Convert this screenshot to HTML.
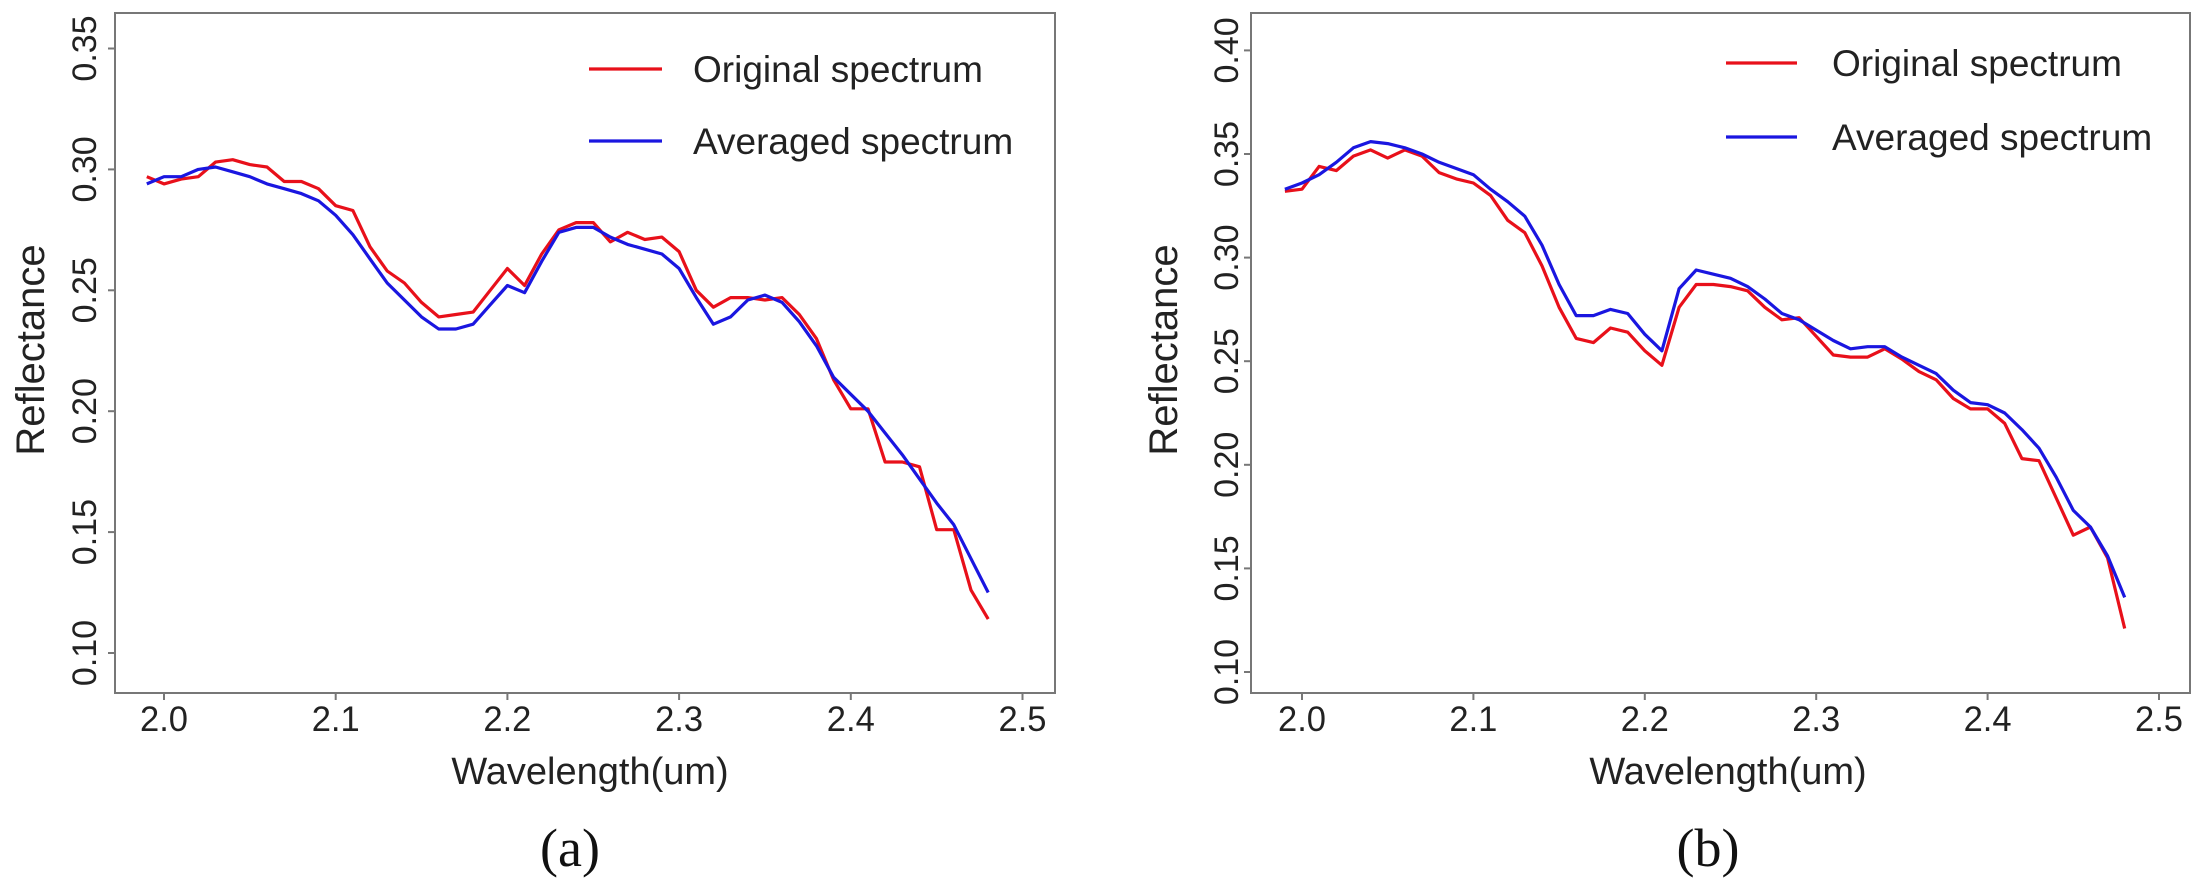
<!DOCTYPE html>
<html><head><meta charset="utf-8"><style>
html,body{margin:0;padding:0;background:#fff;}
svg{display:block;font-family:"Liberation Sans",Arial,sans-serif;}
</style></head><body>
<svg id="chart" width="2200" height="889" viewBox="0 0 2200 889"></svg>
<script>
const wavelengths = [1.99,2.00,2.01,2.02,2.03,2.04,2.05,2.06,2.07,2.08,2.09,2.10,2.11,2.12,2.13,2.14,2.15,2.16,2.17,2.18,2.19,2.20,2.21,2.22,2.23,2.24,2.25,2.26,2.27,2.28,2.29,2.30,2.31,2.32,2.33,2.34,2.35,2.36,2.37,2.38,2.39,2.40,2.41,2.42,2.43,2.44,2.45,2.46,2.47,2.48];
const aOriginal = [.297,.294,.296,.297,.303,.304,.302,.301,.295,.295,.292,.285,.283,.268,.258,.253,.245,.239,.240,.241,.250,.259,.252,.265,.275,.278,.278,.270,.274,.271,.272,.266,.250,.243,.247,.247,.246,.247,.240,.230,.213,.201,.201,.179,.179,.177,.151,.151,.126,.114];
const aAveraged = [.294,.297,.297,.300,.301,.299,.297,.294,.292,.290,.287,.281,.273,.263,.253,.246,.239,.234,.234,.236,.244,.252,.249,.262,.274,.276,.276,.272,.269,.267,.265,.259,.247,.236,.239,.246,.248,.245,.237,.227,.214,.207,.200,.191,.182,.172,.162,.153,.139,.125];
const bOriginal = [.332,.333,.344,.342,.349,.352,.348,.352,.349,.341,.338,.336,.330,.318,.312,.296,.276,.261,.259,.266,.264,.255,.248,.276,.287,.287,.286,.284,.276,.270,.271,.262,.253,.252,.252,.256,.251,.245,.241,.232,.227,.227,.220,.203,.202,.184,.166,.170,.155,.121];
const bAveraged = [.333,.336,.340,.346,.353,.356,.355,.353,.350,.346,.343,.340,.333,.327,.320,.306,.287,.272,.272,.275,.273,.263,.255,.285,.294,.292,.290,.286,.280,.273,.270,.265,.260,.256,.257,.257,.252,.248,.244,.236,.230,.229,.225,.217,.208,.194,.178,.170,.156,.136];
const xTicks = [2.0,2.1,2.2,2.3,2.4,2.5];
const xTickLabels = ["2.0","2.1","2.2","2.3","2.4","2.5"];
const aYTicks = [0.10,0.15,0.20,0.25,0.30,0.35];
const aYTickLabels = ["0.10","0.15","0.20","0.25","0.30","0.35"];
const bYTicks = [0.10,0.15,0.20,0.25,0.30,0.35,0.40];
const bYTickLabels = ["0.10","0.15","0.20","0.25","0.30","0.35","0.40"];
const legendLabels = ["Original spectrum","Averaged spectrum"];

const NS="http://www.w3.org/2000/svg";
const svg=document.getElementById('chart');
function mk(tag,attrs,parent){const e=document.createElementNS(NS,tag);for(const k in attrs)e.setAttribute(k,attrs[k]);(parent||svg).appendChild(e);return e;}

function panel(cfg){
  const g=mk('g',{});
  
  
  const X=v=>cfg.x0+(v-2.0)*cfg.xs;
  const Y=v=>cfg.y0-(v-0.10)*cfg.ys;
  const box=mk('rect',{x:cfg.L,y:cfg.T,width:cfg.R-cfg.L,height:cfg.B-cfg.T,fill:'none',stroke:'#777','stroke-width':2},g);
  
  
  xTicks.forEach((t,i)=>{
    const x=X(t);
    mk('line',{x1:x,y1:cfg.B,x2:x,y2:cfg.B+7,stroke:'#777','stroke-width':2},g);
    const tx=mk('text',{x:x,y:cfg.B+38,'font-size':35,'text-anchor':'middle',fill:'#222',textLength:48,lengthAdjust:'spacingAndGlyphs'},g);
    tx.textContent=xTickLabels[i];
    
    
  });
  cfg.yt.forEach((t,i)=>{
    const y=Y(t);
    mk('line',{x1:cfg.L,y1:y,x2:cfg.L-7,y2:y,stroke:'#777','stroke-width':2},g);
    const tx=mk('text',{x:0,y:0,'font-size':34,'text-anchor':'middle',fill:'#222',transform:`translate(${cfg.tlx},${y}) rotate(-90)`},g);
    tx.textContent=cfg.ytl[i];
    
    
  });
  const yl=mk('text',{x:0,y:0,'font-size':40,'text-anchor':'middle',fill:'#222',transform:`translate(${cfg.ylx},${cfg.ylc}) rotate(-90)`},g);
  yl.textContent='Reflectance';
  
  
  const xl=mk('text',{x:cfg.xlc,y:784,'font-size':38,'text-anchor':'middle',fill:'#222'},g);
  xl.textContent='Wavelength(um)';
  
  
  const cap=mk('text',{x:cfg.xlc-20,y:866,'font-size':54,'text-anchor':'middle',fill:'#111','font-family':'"Liberation Serif",serif'},g);
  cap.textContent=cfg.caption;
  
  
  [[cfg.orig,'#e8101a','original-spectrum-line'],[cfg.avg,'#1a16e0','averaged-spectrum-line']].forEach(([d,c,n])=>{
    const p=mk('polyline',{points:d.map((v,i)=>X(wavelengths[i]).toFixed(1)+','+Y(v).toFixed(1)).join(' '),fill:'none',stroke:c,'stroke-width':3.2,'stroke-linejoin':'round'},g);
    
    
  });
  ['#e8101a','#1a16e0'].forEach((c,i)=>{
    const ly=cfg.legY[i];
    const ln=mk('line',{x1:cfg.legX1,y1:ly,x2:cfg.legX2,y2:ly,stroke:c,'stroke-width':3.2},g);
    
    
    const t=mk('text',{x:cfg.legT,y:ly+13,'font-size':37,fill:'#222'},g);
    t.textContent=legendLabels[i];
    
    
  });
}
panel({name:'panel-a',L:115,R:1055,T:13,B:693,x0:164,xs:1717,y0:653,ys:2418,yt:aYTicks,ytl:aYTickLabels,tlx:96,ylx:44,ylc:350,xlc:590,caption:'(a)',orig:aOriginal,avg:aAveraged,legX1:589,legX2:662,legT:693,legY:[69,141]});
panel({name:'panel-b',L:1251,R:2190,T:13,B:693,x0:1302,xs:1714,y0:672,ys:2072,yt:bYTicks,ytl:bYTickLabels,tlx:1238,ylx:1177,ylc:350,xlc:1728,caption:'(b)',orig:bOriginal,avg:bAveraged,legX1:1726,legX2:1797,legT:1832,legY:[63,137]});
</script>
</body></html>
